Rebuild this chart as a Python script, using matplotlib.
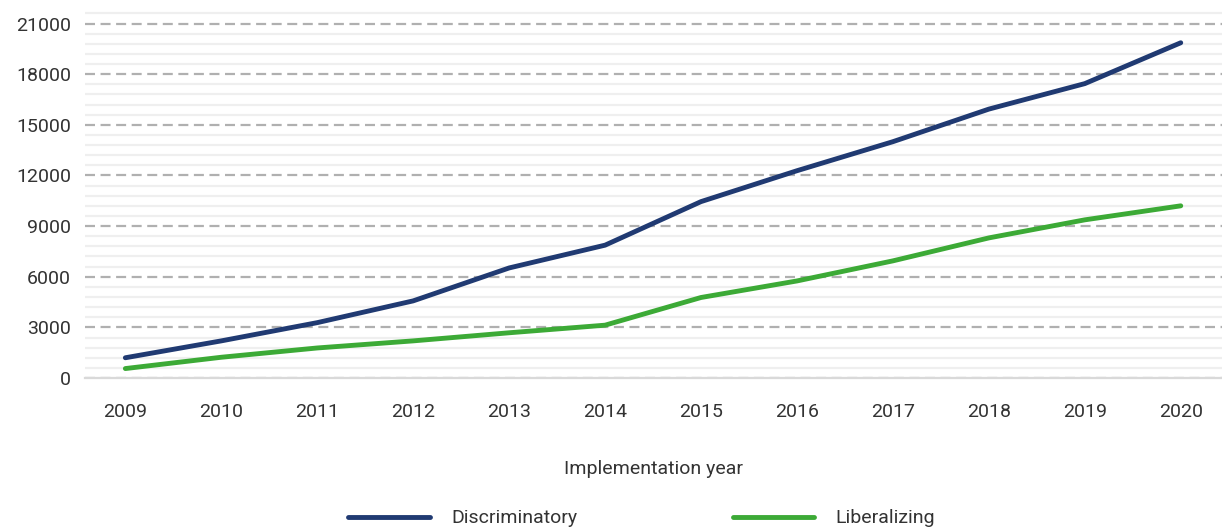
import matplotlib
import numpy as np

matplotlib.use("Agg")
import matplotlib.pyplot as plt
from matplotlib.ticker import MultipleLocator

years = ["2009", "2010", "2011", "2012", "2013", "2014",
         "2015", "2016", "2017", "2018", "2019", "2020"]
discriminatory = [1200, 2200, 3280, 4570, 6520, 7870,
                  10450, 12280, 14000, 15930, 17440, 19860]
liberalizing = [560, 1230, 1780, 2200, 2680, 3130,
                4770, 5750, 6940, 8300, 9370, 10200]

plt.rcParams["font.family"] = ["Roboto", "DejaVu Sans"]

fig = plt.figure(figsize=(12.22, 5.27), dpi=100)
ax = fig.add_axes([0.0696, 0.2827, 0.9304, 0.6983])

x = np.arange(len(years))
ax.plot(x, discriminatory, color="#203A72", linewidth=3.5,
        solid_capstyle="round", label="Discriminatory", zorder=3)
ax.plot(x, liberalizing, color="#3CAA36", linewidth=3.5,
        solid_capstyle="round", label="Liberalizing", zorder=3)

ax.set_xlim(-0.42, 11.43)
ax.set_ylim(0, 21800)
ax.yaxis.set_major_locator(MultipleLocator(3000))
ax.yaxis.set_minor_locator(MultipleLocator(600))
ax.grid(True, which="minor", axis="y", color="#EFEFEF", linewidth=1.6, zorder=0)
ax.grid(True, which="major", axis="y", color="#B0B0B0", linewidth=1.6,
        linestyle=(0, (4.5, 2.5)), zorder=1)
ax.set_axisbelow(True)

ax.set_xticks(x)
ax.set_xticklabels(years)
ax.tick_params(axis="both", which="both", length=0, labelsize=14,
               labelcolor="#333333")
ax.tick_params(axis="x", pad=18)
ax.tick_params(axis="y", pad=10)

for side in ["top", "right", "left"]:
    ax.spines[side].set_visible(False)
ax.spines["bottom"].set_color("#D9D9D9")
ax.spines["bottom"].set_linewidth(1.6)

ax.set_xlabel("Implementation year", fontsize=14, color="#333333",
              labelpad=28)

fig.legend(loc="lower center", bbox_to_anchor=(0.525, -0.034), ncol=2,
           frameon=False, fontsize=14, handlelength=4.2, columnspacing=8.0,
           handletextpad=1.1, labelcolor="#333333")

fig.savefig("out.png", dpi=100)
